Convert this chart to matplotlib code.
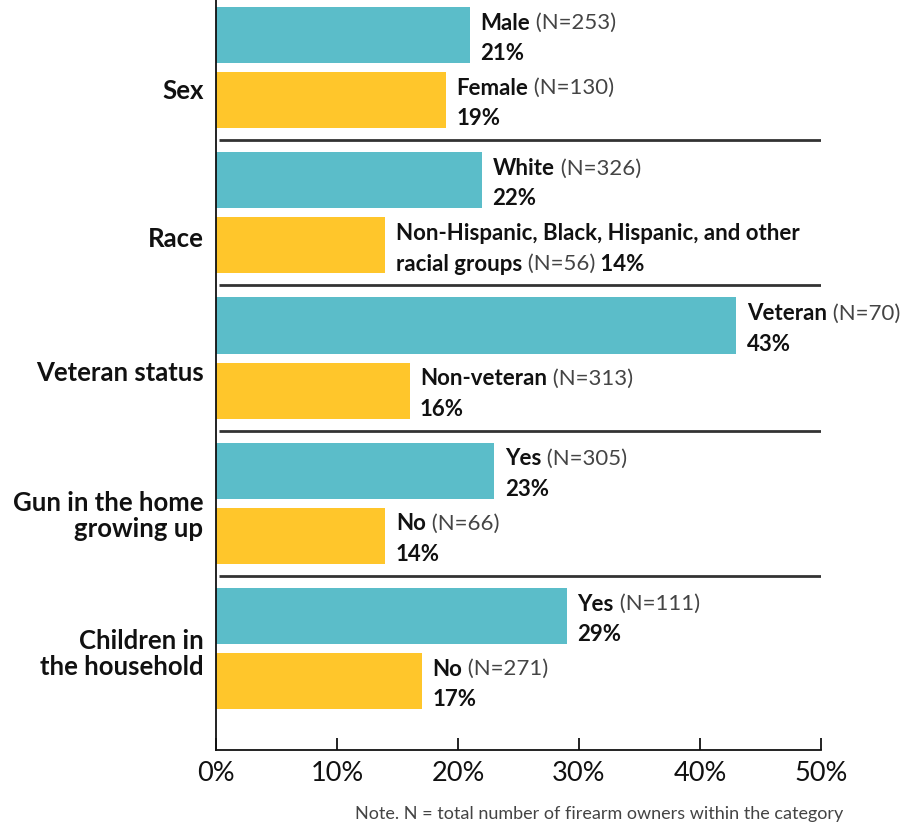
import matplotlib
matplotlib.use("Agg")
import matplotlib.pyplot as plt

plt.rcParams['font.family'] = ['Lato', 'DejaVu Sans']

groups = ['Sex', 'Race', 'Veteran status', 'Gun in the home\ngrowing up', 'Children in\nthe household']
teal_names = ['Male', 'White', 'Veteran', 'Yes', 'Yes']
teal_n = [253, 326, 70, 305, 111]
teal_pct = [21, 22, 43, 23, 29]
yellow_names = ['Female', 'Non-Hispanic, Black, Hispanic, and other\nracial groups', 'Non-veteran', 'No', 'No']
yellow_n = [130, 56, 313, 66, 271]
yellow_pct = [19, 14, 16, 14, 17]
xticks = [0, 10, 20, 30, 40, 50]

TEAL = '#5BBDC9'
YELLOW = '#FFC62B'
DARK = '#111111'
GREY = '#444444'

# vertical nudge of the group labels (points, downwards)
label_nudge = [17, 19, 11, 9, 4]

fig = plt.figure(figsize=(9.09, 8.27), dpi=100)
ax = fig.add_axes([216/909, 1 - 750/827, (821-216)/909, 750/827])

off = 0.224
h = 0.386
ypos = list(range(len(groups)))
ax.barh([y - off for y in ypos], teal_pct, height=h, color=TEAL, zorder=2)
ax.barh([y + off for y in ypos], yellow_pct, height=h, color=YELLOW, zorder=2)

ax.set_xlim(0, 50)
ax.set_ylim(4.699, -0.465)

# separators between groups
ax.hlines([y + 0.5 for y in ypos[:-1]], 0.25, 50, color='#333333', lw=2, zorder=3)

FS = 16


def draw_line(x, y, dy, segments):
    prev = None
    for text, weight, color in segments:
        if prev is None:
            prev = ax.annotate(text, xy=(x, y), xytext=(7.5, dy), textcoords='offset points',
                               ha='left', va='center', fontsize=FS, fontweight=weight,
                               color=color)
        else:
            prev = ax.annotate(text, xy=(1, 0.5), xycoords=prev, xytext=(0, 0),
                               textcoords='offset points', ha='left', va='center',
                               fontsize=FS, fontweight=weight, color=color)


def bar_label(x, y, name, n, pct):
    lines = name.split('\n')
    ntxt = ' (N=%d)' % n
    if len(lines) == 1:
        draw_line(x, y, 8.5, [(lines[0], 'bold', DARK), (ntxt, 'normal', GREY)])
        draw_line(x, y, -13.5, [('%d%%' % pct, 'bold', DARK)])
    else:
        draw_line(x, y, 8.5, [(lines[0], 'bold', DARK)])
        draw_line(x, y, -13.5, [(lines[1], 'bold', DARK), (ntxt, 'normal', GREY),
                                (' %d%%' % pct, 'bold', DARK)])


for i in ypos:
    bar_label(teal_pct[i], i - off, teal_names[i], teal_n[i], teal_pct[i])
    bar_label(yellow_pct[i], i + off, yellow_names[i], yellow_n[i], yellow_pct[i])

for i, g in enumerate(groups):
    ax.annotate(g, xy=(0, i), xycoords=('axes fraction', 'data'), xytext=(-9, -label_nudge[i]),
                textcoords='offset points', ha='right', va='center', fontsize=18.5,
                fontweight='bold', color=DARK, linespacing=1.1)

for s in ['top', 'right']:
    ax.spines[s].set_visible(False)
ax.spines['left'].set_linewidth(1.3)
ax.spines['bottom'].set_linewidth(1.3)
ax.spines['left'].set_color(DARK)
ax.spines['bottom'].set_color(DARK)
ax.set_yticks([])
ax.set_xticks(xticks)
ax.set_xticklabels(['%d%%' % t for t in xticks])
ax.tick_params(axis='x', direction='in', length=9, width=1.3, pad=8, labelsize=19.5, colors=DARK)

fig.text(843/909, 1 - 814/827, 'Note. N = total number of firearm owners within the category',
         ha='right', va='center', fontsize=13, color=GREY)

fig.savefig('out.png', dpi=100)
